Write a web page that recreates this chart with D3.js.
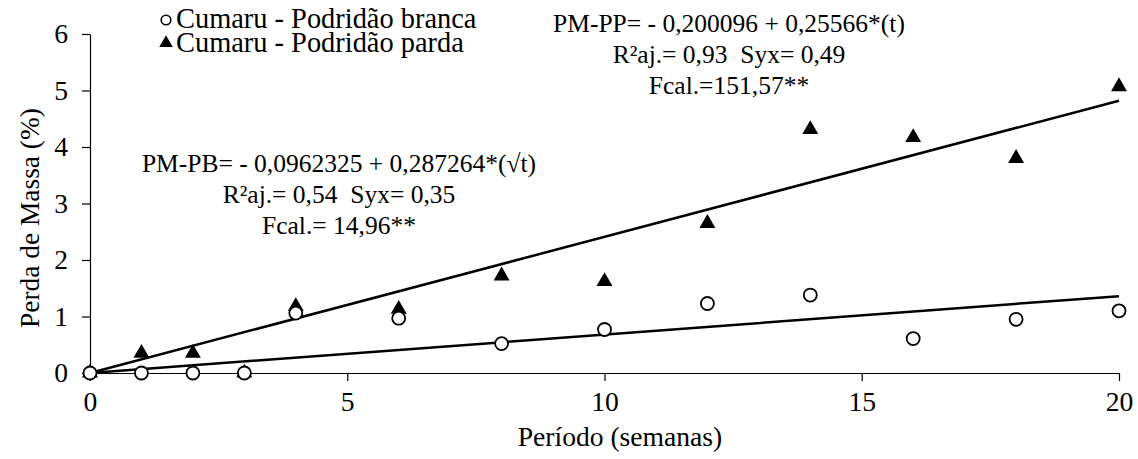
<!DOCTYPE html>
<html>
<head>
<meta charset="utf-8">
<script src="https://cdn.jsdelivr.net/npm/d3@7"></script>
</head>
<body style="margin:0">
<svg id="chart" width="1138" height="459"></svg>
<script>
// semanas
const weeks = [0, 1, 2, 3, 4, 6, 8, 10, 12, 14, 16, 18, 20];
// Cumaru - Podridão branca (perda de massa %)
const whiteRot = [0, 0, 0, 0, 1.06, 0.97, 0.52, 0.77, 1.23, 1.38, 0.61, 0.95, 1.10];
// Cumaru - Podridão parda
const brownRot = [0, 0.35, 0.35, 0, 1.18, 1.13, 1.72, 1.62, 2.65, 4.31, 4.17, 3.80, 5.07];
// fitted lines as drawn
const trendPB = [[0, 0], [20, 1.36]];
const trendPP = [[0, 0], [20, 4.82]];

const xTicks = [0, 5, 10, 15, 20];
const yTicks = [0, 1, 2, 3, 4, 5, 6];

const eqPP = ['PM-PP= - 0,200096 + 0,25566*(t)', 'R²aj.= 0,93  Syx= 0,49', 'Fcal.=151,57**'];
const eqPB = ['PM-PB= - 0,0962325 + 0,287264*(√t)', 'R²aj.= 0,54  Syx= 0,35', 'Fcal.= 14,96**'];

const serif = '"Liberation Serif"';
const svg = d3.select('#chart');
const margin = { left: 90, right: 19, top: 34, bottom: 86 };
const W = 1138, H = 459;

const x = d3.scaleLinear([0, 20], [margin.left, W - margin.right]);
const y = d3.scaleLinear([0, 6], [H - margin.bottom, margin.top]);

function label(sel, size) {
  return sel.attr('font-family', serif).attr('font-size', size).attr('fill', '#000');
}

// x axis
const gx = svg.append('g')
  .attr('transform', `translate(0,${y(0)})`)
  .call(d3.axisBottom(x).tickValues(xTicks).tickFormat(d3.format('d'))
    .tickSize(8).tickSizeOuter(0).tickPadding(10));
// y axis
const gy = svg.append('g')
  .attr('transform', `translate(${x(0)},0)`)
  .call(d3.axisLeft(y).tickValues(yTicks).tickFormat(d3.format('d'))
    .tickSize(8).tickSizeOuter(0).tickPadding(14));

[gx, gy].forEach(g => {
  g.attr('font-family', null).attr('font-size', null);
  g.select('.domain').attr('stroke', '#000').attr('stroke-width', 1.2);
  g.selectAll('.tick line').attr('stroke', '#000').attr('stroke-width', 1.2);
  label(g.selectAll('.tick text'), 27.6);
});

// axis titles
label(svg.append('text'), 27.6)
  .attr('x', 620).attr('y', 446)
  .attr('text-anchor', 'middle')
  .text('Período (semanas)');

label(svg.append('text'), 27.4)
  .attr('transform', 'translate(39,218) rotate(-90)')
  .attr('text-anchor', 'middle')
  .text('Perda de Massa (%)');

// trend lines
const line = d3.line().x(d => x(d[0])).y(d => y(d[1]));
[trendPB, trendPP].forEach(t => {
  svg.append('path')
    .attr('d', line(t))
    .attr('fill', 'none')
    .attr('stroke', '#000')
    .attr('stroke-width', 2.5);
});

// markers
const tri = d3.symbol(d3.symbolTriangle, 110);

svg.append('g').selectAll('path')
  .data(weeks.map((w, i) => [w, brownRot[i]]))
  .join('path')
  .attr('d', tri)
  .attr('transform', d => `translate(${x(d[0])},${y(d[1])})`)
  .attr('fill', '#000');

svg.append('g').selectAll('circle')
  .data(weeks.map((w, i) => [w, whiteRot[i]]))
  .join('circle')
  .attr('cx', d => x(d[0]))
  .attr('cy', d => y(d[1]))
  .attr('r', 6.5)
  .attr('fill', '#fff')
  .attr('stroke', '#000')
  .attr('stroke-width', 1.8);

// legend
const legend = svg.append('g');
legend.append('circle')
  .attr('cx', 166).attr('cy', 20).attr('r', 4.8)
  .attr('fill', '#fff').attr('stroke', '#000').attr('stroke-width', 1.6);
label(legend.append('text'), 28.4)
  .attr('x', 176).attr('y', 28)
  .text('Cumaru - Podridão branca');
legend.append('path')
  .attr('d', d3.symbol(d3.symbolTriangle, 80)())
  .attr('transform', 'translate(166,43)')
  .attr('fill', '#000');
label(legend.append('text'), 28.4)
  .attr('x', 176).attr('y', 52)
  .text('Cumaru - Podridão parda');

// equations
function equation(lines, cx, y0) {
  label(svg.append('g').selectAll('text')
    .data(lines)
    .join('text'), 25.5)
    .attr('x', cx)
    .attr('y', (d, i) => y0 + i * 31)
    .attr('text-anchor', 'middle')
    .attr('xml:space', 'preserve')
    .text(d => d);
}
equation(eqPP, 729, 32);
equation(eqPB, 339, 172);
</script>
</body>
</html>
